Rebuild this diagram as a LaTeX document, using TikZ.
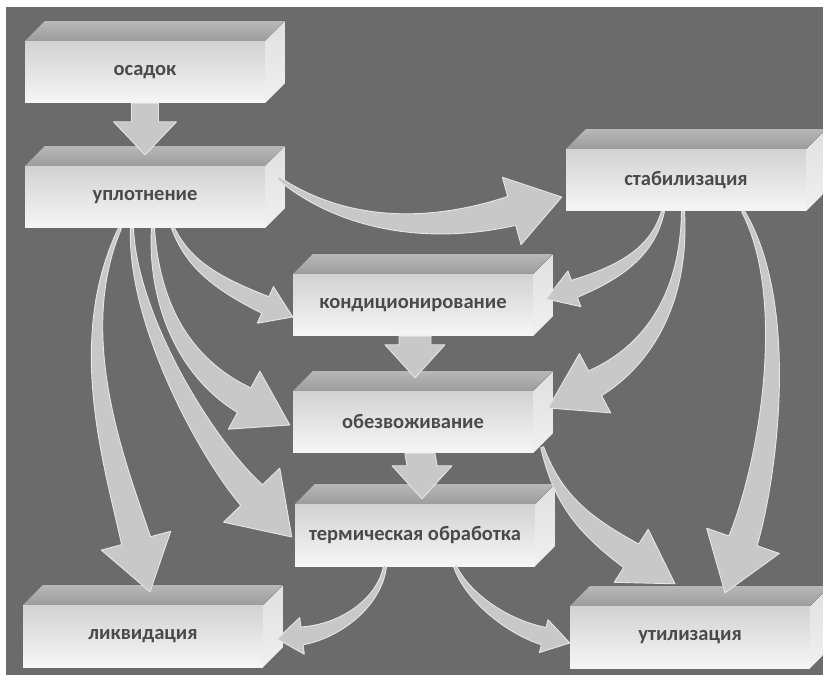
\documentclass[tikz,border=0pt]{standalone}
\usepackage{fontspec}
\setmainfont{Carlito}
\usepackage{tikz}
\usetikzlibrary{calc}
\definecolor{bggray}{HTML}{6B6B6B}
\definecolor{arrowgray}{HTML}{C8C8C8}
\definecolor{arrowrim}{HTML}{E6E6E6}
\definecolor{slabfront}{HTML}{D2D2D2}
\definecolor{slabbottom}{HTML}{F6F6F6}
\definecolor{slabback}{HTML}{B8B8B8}
\definecolor{slabedge}{HTML}{9C9C9C}
\definecolor{slabtext}{HTML}{4A4A4A}
\tikzset{
  slab/.style={rectangle, minimum width=240pt, minimum height=62pt, inner sep=0pt,
    top color=slabfront, bottom color=slabbottom, text=slabtext,
    font=\fontsize{20.5}{23}\selectfont\bfseries},
  slabtop/.style={top color=slabback, bottom color=slabedge},
  slabside/.style={top color=white!88!black, bottom color=white!94!black},
  flow/.style={fill=arrowgray, draw=arrowrim, line width=0.9pt, line join=round},
}
% tapered bent arrow: tail, tail out-vector, back-vector at head, tip,
% tail width, shaft width, head width, head length
\newcommand{\flowarrow}[8]{%
  \coordinate (fa-s) at #1;
  \coordinate (fa-t) at #4;
  \coordinate (fa-c1) at ($(fa-s)+#2$);
  \coordinate (fa-k) at ($(fa-t)+#3$);
  \coordinate (fa-b) at ($(fa-t)!#8pt!(fa-k)$);
  \coordinate (fa-c2) at ($(fa-b)+#3$);
  \pgfmathsetmacro\fat{#5/2}
  \pgfmathsetmacro\fam{(2*#5+#6)/6}
  \pgfmathsetmacro\fan{(#5+2*#6)/6}
  \pgfmathsetmacro\faw{#6/2}
  \pgfmathsetmacro\fah{#7/2}
  \filldraw[flow]
    ($(fa-s)!\fat pt!-90:(fa-c1)$)
    .. controls ($(fa-c1)!\fam pt!-90:(fa-c2)$) and ($(fa-c2)!\fan pt!-90:(fa-b)$)
    .. ($(fa-b)!\faw pt!90:(fa-c2)$)
    -- ($(fa-b)!\fah pt!90:(fa-c2)$) -- (fa-t) -- ($(fa-b)!\fah pt!-90:(fa-c2)$)
    -- ($(fa-b)!\faw pt!-90:(fa-c2)$)
    .. controls ($(fa-c2)!\fan pt!90:(fa-b)$) and ($(fa-c1)!\fam pt!90:(fa-c2)$)
    .. ($(fa-s)!\fat pt!90:(fa-c1)$) -- cycle;
}

\begin{document}
\begin{tikzpicture}[x=1pt, y=-1pt]
\useasboundingbox (0,0) rectangle (823,676);
\fill[bggray] (6,7) rectangle (823,675);

% ---------- boxes ----------
\node[slab] (osadok) at (145,72)  {осадок};
\node[slab] (uplot)  at (145,197) {уплотнение};
\node[slab] (stab)   at (686,180) {стабилизация};
\node[slab] (kond)   at (413,305) {кондиционирование};
\node[slab] (obezv)  at (413,422) {обезвоживание};
\node[slab] (term)   at (415,535) {термическая обработка};
\node[slab] (likv)   at (143,636) {ликвидация};
\node[slab] (util)   at (690,637) {утилизация};
\foreach \b in {osadok,uplot,stab,kond,obezv,term,likv,util}{
  \fill[slabtop] (\b.north west) -- ++(20pt,20pt) -- ([shift={(20pt,20pt)}]\b.north east)
    -- (\b.north east) -- cycle;
  \fill[slabside] (\b.north east) -- ++(20pt,20pt) -- ([shift={(20pt,20pt)}]\b.south east)
    -- (\b.south east) -- cycle;
}

% ---------- straight arrows ----------
\flowarrow{(osadok.south)}{(0,3)}{(0,-3)}{([yshift=11pt]uplot.north)}{27}{27}{63}{33}
\flowarrow{([xshift=2pt]kond.south)}{(0,2)}{(0,-2)}{([xshift=2pt,yshift=13pt]obezv.north)}{32}{32}{60}{33}
\flowarrow{([xshift=7pt]obezv.south)}{(0,3)}{(0,-3)}{([xshift=7pt,yshift=5pt]term.north)}{30}{30}{60}{33}

% ---------- bent arrows from uplot ----------
\flowarrow{([xshift=13pt,yshift=19pt]uplot.east)}{(60,45)}{(-90,25)}{([xshift=-4pt,yshift=-17pt]stab.west)}{3}{30}{70}{52}
\flowarrow{([xshift=28pt]uplot.south)}{(15,35)}{(-50,-22)}{([yshift=-12pt]kond.west)}{3}{18}{40}{30}
\flowarrow{([xshift=8pt]uplot.south)}{(0,60)}{(-70,-38)}{([xshift=-3pt,yshift=-3pt]obezv.west)}{3}{28}{66}{52}
\flowarrow{([xshift=-13pt]uplot.south)}{(0,90)}{(-48,-50)}{([xshift=-3pt,yshift=-2pt]term.west)}{3}{30}{78}{58}
\flowarrow{([xshift=-25pt]uplot.south)}{(-50,110)}{(-21,-77)}{([xshift=7pt,yshift=13pt]likv.north)}{3}{30}{72}{53}

% ---------- bent arrows from stab ----------
\flowarrow{([xshift=-23pt]stab.south)}{(-10,40)}{(47,-17)}{([xshift=13pt,yshift=6pt]kond.east)}{3}{18}{38}{30}
\flowarrow{([xshift=-3pt]stab.south)}{(2,87)}{(53,-28)}{([xshift=15pt,yshift=14pt]obezv.east)}{3}{28}{67}{53}
\flowarrow{([xshift=57pt]stab.south)}{(50,89)}{(26,-75)}{([xshift=35pt,yshift=13pt]util.north)}{3}{30}{77}{55}

% ---------- lower arrows ----------
\flowarrow{([xshift=9pt,yshift=6pt]obezv.south east)}{(15,50)}{(-50,-32)}{([xshift=-15pt,yshift=22pt]util.north)}{3}{28}{63}{52}
\flowarrow{([xshift=-30pt]term.south)}{(-5,35)}{(40,-5)}{([xshift=14pt,yshift=-3pt]likv.east)}{3}{18}{37}{25}
\flowarrow{([xshift=40pt]term.south)}{(12,30)}{(-38,-10)}{([yshift=-6pt]util.west)}{3}{18}{34}{27}
\end{tikzpicture}
\end{document}
